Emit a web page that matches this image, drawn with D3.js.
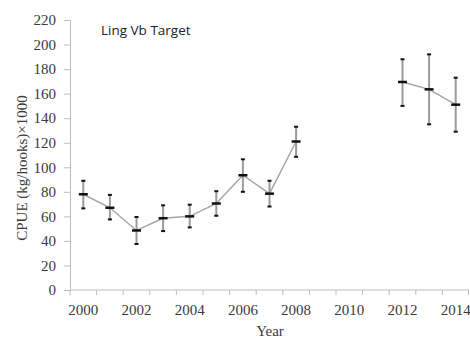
<!DOCTYPE html>
<meta charset="utf-8">
<style>
  body { margin: 0; background: #fff; }
  svg text { fill: #3a3a3a; }
</style>
<div id="chart"></div>
<script src="https://cdn.jsdelivr.net/npm/d3@7"></script>
<script>
// data
var years = d3.range(2000, 2015);
var tickYears = [2000, 2002, 2004, 2006, 2008, 2010, 2012, 2014];
var obsYears = [2000, 2001, 2002, 2003, 2004, 2005, 2006, 2007, 2008, 2012, 2013, 2014];
var cpue   = [78, 67, 48.5, 58.5, 60, 70.5, 93.5, 78.5, 121, 169.5, 163.5, 151];
var upper  = [89, 77.5, 59.5, 69, 69.5, 80.5, 106.5, 89, 133, 188, 192, 173];
var lower  = [66.5, 57.5, 37.5, 48, 51, 60.5, 80, 68, 108.5, 150, 135, 129];
var yTicks = d3.range(0, 221, 20);

var W = 470, H = 338;
var margin = {top: 20, right: 1, bottom: 48, left: 70};

var svg = d3.select("#chart").append("svg")
    .attr("width", W).attr("height", H);

var x = d3.scaleBand().domain(years).range([margin.left, W - margin.right]);
var y = d3.scaleLinear().domain([0, 220]).range([H - margin.bottom, margin.top]);

var axisColor = "#bdbdbd";

// y axis
var gy = svg.append("g")
    .attr("transform", "translate(" + margin.left + ",0)")
    .call(d3.axisLeft(y).tickValues(yTicks).tickSize(6).tickPadding(8));
gy.selectAll("line, path").attr("stroke", axisColor);
gy.selectAll("text").style("font-family", "Liberation Serif, Times New Roman, serif")
    .style("font-size", "15px").style("fill", "#3a3a3a");

// x axis: ticks on category boundaries, labels every other year
var gx = svg.append("g")
    .attr("transform", "translate(0," + (H - margin.bottom) + ")");
gx.append("line")
    .attr("x1", margin.left).attr("x2", W - margin.right)
    .attr("stroke", axisColor);
gx.selectAll(".tk").data(years.concat([2015])).enter().append("line")
    .attr("x1", function(d) { return d === 2015 ? W - margin.right - 0.5 : x(d); })
    .attr("x2", function(d) { return d === 2015 ? W - margin.right - 0.5 : x(d); })
    .attr("y1", 0).attr("y2", 5)
    .attr("stroke", axisColor);
gx.selectAll(".lb").data(tickYears).enter().append("text")
    .attr("x", function(d) { return x(d) + x.bandwidth() / 2; })
    .attr("y", 25)
    .attr("text-anchor", "middle")
    .style("font-family", "Liberation Serif, Times New Roman, serif")
    .style("font-size", "15px")
    .text(function(d) { return d; });

// axis titles
svg.append("text")
    .attr("transform", "translate(27,168) rotate(-90)")
    .attr("text-anchor", "middle")
    .style("font-family", "Liberation Serif, Times New Roman, serif")
    .style("font-size", "15px")
    .text("CPUE (kg/hooks)\u00d71000");
svg.append("text")
    .attr("x", 270).attr("y", 336)
    .attr("text-anchor", "middle")
    .style("font-family", "Liberation Serif, Times New Roman, serif")
    .style("font-size", "15px")
    .text("Year");

svg.append("text")
    .attr("x", 101).attr("y", 35)
    .style("font-family", "Open Sans, Noto Sans, sans-serif")
    .style("font-size", "13.5px")
    .style("fill", "#222")
    .text("Ling Vb Target");

var pts = obsYears.map(function(yr, i) {
  return {year: yr, v: cpue[i], hi: upper[i], lo: lower[i]};
});
var cx = function(d) { return x(d.year) + x.bandwidth() / 2; };

// connecting line (gap where no data)
var line = d3.line()
    .defined(function(d) { return d !== null; })
    .x(cx).y(function(d) { return y(d.v); });
var series = years.map(function(yr) {
  return pts.find(function(p) { return p.year === yr; }) || null;
});
svg.append("path").datum(series)
    .attr("d", line)
    .attr("fill", "none")
    .attr("stroke", "#a6a6a6")
    .attr("stroke-width", 1.5);

var g = svg.selectAll(".eb").data(pts).enter().append("g");
g.append("line")
    .attr("x1", cx).attr("x2", cx)
    .attr("y1", function(d) { return y(d.hi); })
    .attr("y2", function(d) { return y(d.lo); })
    .attr("stroke", "#9a9a9a").attr("stroke-width", 2);
g.append("line")
    .attr("x1", function(d) { return cx(d) - 2; })
    .attr("x2", function(d) { return cx(d) + 2; })
    .attr("y1", function(d) { return y(d.hi); })
    .attr("y2", function(d) { return y(d.hi); })
    .attr("stroke", "#111").attr("stroke-width", 2);
g.append("line")
    .attr("x1", function(d) { return cx(d) - 2; })
    .attr("x2", function(d) { return cx(d) + 2; })
    .attr("y1", function(d) { return y(d.lo); })
    .attr("y2", function(d) { return y(d.lo); })
    .attr("stroke", "#111").attr("stroke-width", 2);
g.append("line")
    .attr("x1", function(d) { return cx(d) - 4.5; })
    .attr("x2", function(d) { return cx(d) + 4.5; })
    .attr("y1", function(d) { return y(d.v); })
    .attr("y2", function(d) { return y(d.v); })
    .attr("stroke", "#111").attr("stroke-width", 2.5);
</script>
